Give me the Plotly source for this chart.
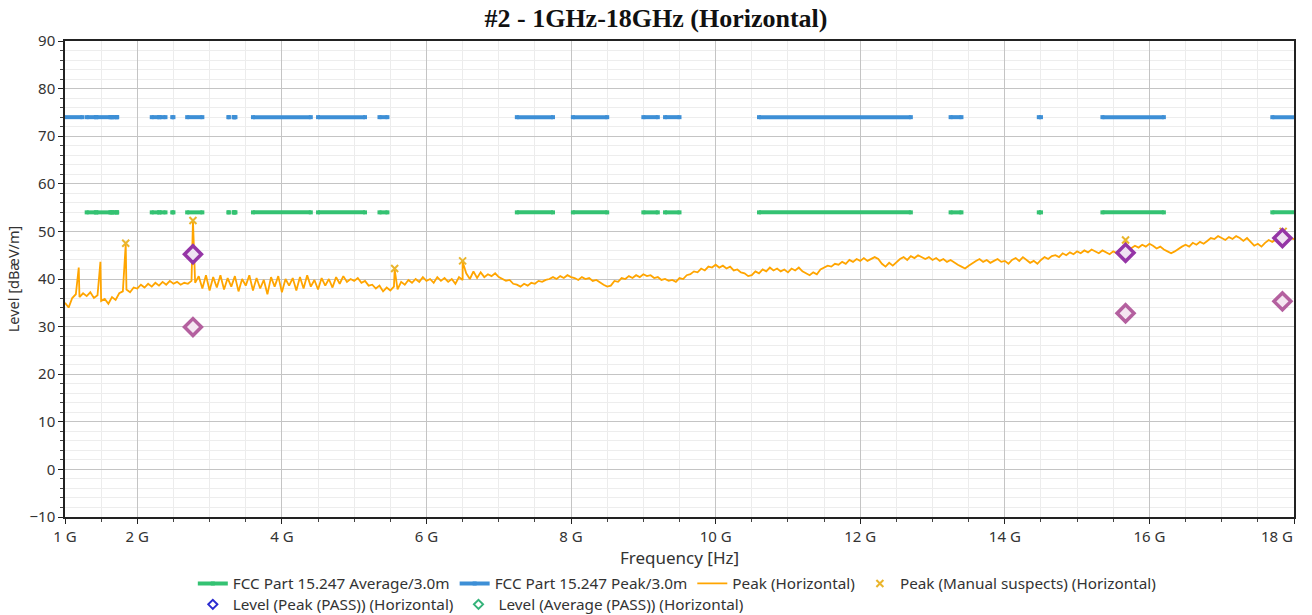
import numpy as np
import plotly.graph_objects as go

# ---------------- data ----------------
title_text = "#2 - 1GHz-18GHz (Horizontal)"

# restricted bands (GHz) where limits are drawn
peak_limit_bands = [(0.96, 1.24), (1.3, 1.427), (1.435, 1.6265), (1.645, 1.6465), (1.66, 1.71),
                    (1.7188, 1.7222), (2.2, 2.3), (2.31, 2.39), (2.4835, 2.5), (2.69, 2.9),
                    (3.26, 3.267), (3.332, 3.339), (3.3458, 3.358), (3.6, 4.4), (4.5, 5.15),
                    (5.35, 5.46), (7.25, 7.75), (8.025, 8.5), (9.0, 9.2), (9.3, 9.5),
                    (10.6, 12.7), (13.25, 13.4), (14.47, 14.5), (15.35, 16.2), (17.7, 21.4)]
avg_limit_bands = peak_limit_bands[1:]
peak_limit_level = 74.0
avg_limit_level = 54.0

# measured peak trace, 1.00 .. 18.00 GHz every 0.05 GHz
peak_freq = np.round(np.arange(1.0, 18.0 + 1e-9, 0.05), 2)
peak_level = [
    35.0, 34.0, 36.0, 36.8, 36.2, 37.0, 36.4, 37.2, 36.0, 36.6, 35.4, 35.8, 34.8, 36.2, 35.6, 37.0, 37.4, 37.8, 37.2, 38.2,
    38.0, 38.8, 38.2, 39.0, 38.4, 39.2, 38.6, 39.4, 38.8, 39.6, 39.0, 39.4, 38.8, 39.2, 39.0, 39.6, 39.2, 40.6, 38.0, 40.8,
    37.6, 40.4, 38.2, 40.8, 37.8, 40.2, 38.4, 40.6, 37.4, 40.0, 38.6, 40.8, 37.6, 40.2, 38.0, 39.8, 36.8, 40.4, 38.4, 40.6,
    37.2, 40.0, 38.6, 40.2, 37.6, 40.4, 38.0, 40.8, 38.4, 39.8, 37.8, 40.2, 38.6, 40.0, 38.2, 40.4, 39.0, 40.6, 39.4, 40.0,
    39.6, 40.2, 39.2, 39.6, 38.6, 38.8, 38.0, 38.6, 37.4, 38.2, 37.6, 38.4, 37.8, 39.4, 38.8, 39.8, 39.2, 40.0, 39.4, 40.4,
    39.6, 40.0, 39.2, 40.4, 39.6, 40.2, 39.4, 40.0, 39.0, 40.4, 39.8, 41.2, 40.0, 41.6, 40.2, 41.4, 40.4, 41.0, 40.6, 41.2,
    40.4, 40.0, 39.6, 39.8, 39.0, 38.8, 38.4, 39.0, 38.6, 39.2, 39.0, 39.6, 39.4, 39.8, 40.0, 40.4, 40.0, 40.6, 40.2, 40.8,
    40.4, 40.2, 39.8, 40.4, 40.0, 40.2, 39.6, 39.8, 39.2, 38.8, 38.4, 38.6, 39.6, 39.4, 40.2, 40.0, 40.6, 40.2, 40.8, 40.4,
    41.0, 40.6, 40.8, 40.2, 40.4, 39.8, 40.0, 39.6, 39.8, 39.4, 40.2, 40.0, 40.8, 41.0, 41.6, 41.4, 42.2, 41.8, 42.6, 42.4,
    43.0, 42.4, 42.8, 42.2, 42.6, 41.8, 42.0, 41.4, 41.2, 40.6, 40.8, 41.6, 41.2, 42.0, 41.6, 42.4, 41.8, 42.2, 41.6, 42.0,
    41.4, 42.2, 41.8, 42.4, 41.6, 41.2, 40.8, 41.4, 41.0, 42.0, 42.4, 42.8, 42.6, 43.2, 43.0, 43.6, 43.2, 44.0, 43.6, 44.2,
    43.8, 44.4, 43.8, 44.2, 44.6, 44.2, 43.2, 42.6, 43.4, 42.8, 43.6, 44.2, 44.6, 44.0, 44.8, 44.4, 45.0, 44.6, 44.2, 44.6,
    44.0, 44.4, 43.8, 44.2, 43.6, 44.0, 43.4, 43.0, 42.6, 42.2, 42.8, 43.4, 43.8, 44.2, 43.6, 44.0, 43.4, 43.8, 44.2, 43.6,
    43.8, 43.2, 44.0, 44.4, 43.8, 44.6, 44.0, 43.4, 43.8, 43.2, 44.0, 44.6, 44.2, 44.8, 45.0, 44.6, 45.4, 45.0, 45.6, 45.2,
    45.8, 45.4, 46.0, 45.6, 46.2, 45.8, 45.4, 46.0, 45.6, 45.2, 45.8, 45.4, 45.0, 45.6, 46.0, 46.6, 47.0, 46.6, 47.2, 46.8,
    47.4, 47.0, 46.4, 46.8, 46.2, 45.8, 45.4, 45.8, 46.4, 46.8, 47.2, 46.8, 47.6, 47.2, 47.8, 47.4, 48.0, 48.6, 48.4, 49.0,
    48.6, 48.2, 48.8, 48.4, 49.0, 48.6, 48.0, 48.6, 47.8, 47.0, 47.4, 46.8, 47.6, 48.2, 47.8, 48.4, 48.8, 48.4, 49.0, 48.6,
    48.4,
]

# narrow spikes in the peak trace
spike_freq = [1.19, 1.49, 1.84, 2.77, 5.56, 6.50, 15.67, 17.85]
spike_level = [42.4, 43.6, 47.3, 52.3, 42.0, 43.6, 48.0, 49.8]

# manual suspects
suspect_freq = [1.84, 2.77, 5.56, 6.50, 15.67, 17.85]
suspect_level = [47.5, 52.3, 42.2, 43.8, 48.2, 50.0]

# final measurements
final_freq = [2.77, 15.67, 17.84]
final_peak_level = [45.2, 45.5, 48.6]
final_avg_level = [29.9, 32.8, 35.3]

x_tick_vals = [1, 2, 4, 6, 8, 10, 12, 14, 16, 18]
x_tick_text = ["1 G", "2 G", "4 G", "6 G", "8 G", "10 G", "12 G", "14 G", "16 G", "18 G"]

# ---------------- build ----------------
def band_xy(bands, level):
    xs, ys = [], []
    for a, b in bands:
        xs += [a, b, None]
        ys += [level, level, None]
    return xs, ys

GREEN = "#34c272"
BLUE = "#3d8fd6"
ORANGE = "#ffa500"
SUSPECT = "#eab52c"
FONT = "Noto Sans"

W, H = 1312, 615

fig = go.Figure()

ax, ay = band_xy(avg_limit_bands, avg_limit_level)
fig.add_trace(go.Scatter(x=ax, y=ay, mode="lines+markers", name="FCC Part 15.247 Average/3.0m",
                         line=dict(color=GREEN, width=4),
                         marker=dict(symbol="square", size=4, color=GREEN), legend="legend"))
px_, py_ = band_xy(peak_limit_bands, peak_limit_level)
fig.add_trace(go.Scatter(x=px_, y=py_, mode="lines+markers", name="FCC Part 15.247 Peak/3.0m",
                         line=dict(color=BLUE, width=4),
                         marker=dict(symbol="square", size=4, color=BLUE), legend="legend"))

f_all = np.concatenate([peak_freq, np.array(spike_freq)])
l_all = np.concatenate([np.array(peak_level), np.array(spike_level)])
order = np.argsort(f_all, kind="stable")
fig.add_trace(go.Scatter(x=f_all[order], y=l_all[order], mode="lines", name="Peak (Horizontal)",
                         line=dict(color=ORANGE, width=1.8), legend="legend"))

fig.add_trace(go.Scatter(x=suspect_freq, y=suspect_level, mode="markers",
                         name="Peak (Manual suspects) (Horizontal)",
                         marker=dict(symbol="x-thin", size=7, line=dict(color=SUSPECT, width=2), color=SUSPECT),
                         legend="legend"))

# visible final-measurement diamonds
fig.add_trace(go.Scatter(x=final_freq, y=final_avg_level, mode="markers", showlegend=False,
                         marker=dict(symbol="diamond", size=13, color="#f4e6f1",
                                     line=dict(color="#b4609f", width=3.5))))
fig.add_trace(go.Scatter(x=final_freq, y=final_peak_level, mode="markers", showlegend=False,
                         marker=dict(symbol="diamond", size=13, color="#efe2f2",
                                     line=dict(color="#9535a6", width=3.5))))
# legend entries for the final measurements
fig.add_trace(go.Scatter(x=[None], y=[None], mode="markers", name="Level (Peak (PASS)) (Horizontal)",
                         marker=dict(symbol="diamond-open", size=7, color="#2b2bd0", line=dict(width=2)),
                         legend="legend2"))
fig.add_trace(go.Scatter(x=[None], y=[None], mode="markers", name="Level (Average (PASS)) (Horizontal)",
                         marker=dict(symbol="diamond-open", size=7, color="#35b37a", line=dict(width=2)),
                         legend="legend2"))

# last tick label is right-aligned to the axis end (as in the reference)
tick_text_shown = x_tick_text[:-1] + [""]
fig.add_annotation(x=x_tick_vals[-1], xref="x", y=0, yref="paper", text=x_tick_text[-1],
                   showarrow=False, xanchor="right", yanchor="top", yshift=-7, xshift=1,
                   font=dict(family=FONT, size=15, color="#333333"))

fig.update_layout(
    width=W, height=H,
    margin=dict(l=65, r=18, t=41, b=98, autoexpand=False),
    paper_bgcolor="white", plot_bgcolor="white",
    font=dict(family=FONT, size=14, color="#333333"),
    title=dict(text="<b>" + title_text + "</b>", x=0.5, xanchor="center", y=1 - 18 / H, yanchor="middle",
               yref="container",
               font=dict(family="Liberation Serif", size=26, color="#111111")),
    legend=dict(orientation="h", x=0.104, xanchor="left", y=-0.105, yanchor="top",
                font=dict(family=FONT, size=15.3, color="#333333"), itemwidth=30,
                bgcolor="rgba(0,0,0,0)", tracegroupgap=0),
    legend2=dict(orientation="h", x=0.104, xanchor="left", y=-0.149, yanchor="top",
                 font=dict(family=FONT, size=15.3, color="#333333"), itemwidth=30,
                 bgcolor="rgba(0,0,0,0)"),
)

fig.update_xaxes(
    range=[1, 18], tickmode="array", tickvals=x_tick_vals, ticktext=tick_text_shown,
    showline=True, linecolor="#222222", linewidth=1.5, mirror=True,
    ticks="outside", ticklen=5, tickcolor="#222222",
    showgrid=True, gridcolor="#c4c4c4", gridwidth=1, zeroline=False,
    minor=dict(tickmode="linear", tick0=1, dtick=0.5, ticks="outside", ticklen=3, tickcolor="#444444",
               showgrid=True, gridcolor="#ececec", gridwidth=1),
    title=dict(text="Frequency [Hz]", font=dict(size=17, family=FONT, color="#333333"), standoff=5),
    tickfont=dict(size=15, family=FONT, color="#333333"),
    automargin=False,
)
fig.update_yaxes(
    range=[-10, 90], tick0=-10, dtick=10,
    showline=True, linecolor="#222222", linewidth=1.5, mirror=True,
    ticks="outside", ticklen=5, tickcolor="#222222",
    showgrid=True, gridcolor="#c4c4c4", gridwidth=1, zeroline=False,
    minor=dict(tick0=0, dtick=2, ticks="outside", ticklen=3, tickcolor="#444444",
               showgrid=True, gridcolor="#ededed", gridwidth=1),
    title=dict(text="Level [dBæV/m]", font=dict(size=14.5, family=FONT, color="#333333"), standoff=6),
    tickfont=dict(size=15, family=FONT, color="#333333"),
    automargin=False,
)

fig.write_html("out.html", config={"displayModeBar": False},
               post_script="document.body.style.margin='0';")
